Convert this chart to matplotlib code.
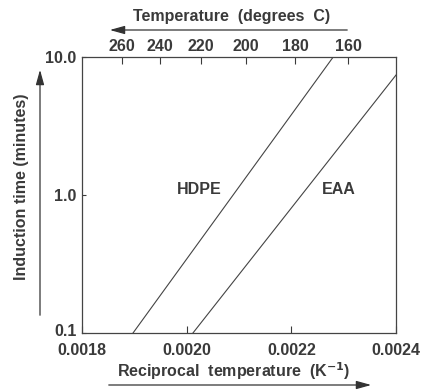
import numpy as np
import matplotlib.pyplot as plt
from matplotlib.transforms import ScaledTranslation

plt.rcParams['font.family'] = ['Liberation Sans', 'DejaVu Sans']

# reciprocal temperature (1/K) vs induction time (min), line end points
hdpe_x = [0.0018975, 0.00228]
hdpe_y = [0.1, 10.0]
eaa_x = [0.002012, 0.0024]
eaa_y = [0.1, 7.4]

bottom_ticks = [0.0018, 0.0020, 0.0022, 0.0024]
bottom_labels = ['0.0018', '0.0020', '0.0022', '0.0024']
top_temps_c = [260, 240, 220, 200, 180, 160]
y_ticks = [0.1, 1.0, 10.0]
y_labels = ['0.1', '1.0', '10.0']

ink = '#3a3a3a'
fs = 11.5

fig = plt.figure(figsize=(4.22, 3.92), dpi=100)
ax = fig.add_axes([82 / 422, 1 - 333 / 392, 314 / 422, 276 / 392])

ax.plot(hdpe_x, hdpe_y, color='#444444', lw=0.8)
ax.plot(eaa_x, eaa_y, color='#444444', lw=0.8)

ax.set_yscale('log')
ax.set_xlim(0.0018, 0.0024)
ax.set_ylim(0.1, 10.0)

ax.set_xticks(bottom_ticks)
ax.set_xticklabels(bottom_labels)
ax.set_yticks(y_ticks)
ax.set_yticklabels(y_labels)
ax.yaxis.set_minor_locator(plt.NullLocator())
ax.tick_params(axis='x', direction='in', length=5, width=0.8, colors=ink, labelsize=fs, pad=7)
ax.tick_params(axis='y', direction='in', length=3, width=0.8, colors=ink, labelsize=fs, pad=4)
for lab in ax.get_xticklabels() + ax.get_yticklabels():
    lab.set_fontweight('bold')
    lab.set_color(ink)
# nudge the bottom y label up a little so it clears 0.0018
low = ax.get_yticklabels()[0]
low.set_transform(low.get_transform() + ScaledTranslation(0, 2 / 72, fig.dpi_scale_trans))
for s in ax.spines.values():
    s.set_color('#444444')
    s.set_linewidth(0.9)

# top axis in degrees C
top = ax.secondary_xaxis('top', functions=(lambda x: x, lambda x: x))
top.set_xticks([1.0 / (t + 273.15) for t in top_temps_c])
top.set_xticklabels([str(t) for t in top_temps_c])
top.tick_params(direction='in', length=5, width=0.8, colors=ink, labelsize=fs, pad=2)
for lab in top.get_xticklabels():
    lab.set_fontweight('bold')
    lab.set_color(ink)
top.spines['top'].set_visible(False)

ax.text(0.0019815, 1.1, 'HDPE', fontsize=fs, fontweight='bold', color=ink, va='center')
ax.text(0.0022586, 1.1, 'EAA', fontsize=fs, fontweight='bold', color=ink, va='center')

# axis titles and arrows in figure pixel coords
def px(x, y):
    return (x / 422, 1 - y / 392)

fig.text(*px(232, 17), 'Temperature  (degrees  C)', ha='center', va='center',
         fontsize=fs, fontweight='bold', color=ink)
fig.text(*px(234, 371), 'Reciprocal  temperature  (K$^{\\mathbf{-1}}$)', ha='center', va='center',
         fontsize=fs, fontweight='bold', color=ink)
fig.text(*px(22, 187), 'Induction time (minutes)', ha='center', va='center', rotation=90,
         fontsize=fs, fontweight='bold', color=ink)

arrow = dict(arrowstyle='-|>,head_length=0.9,head_width=0.25', color='#333333', lw=0.9)
ax.annotate('', xy=px(107, 30), xytext=px(350, 30), xycoords='figure fraction',
            textcoords='figure fraction', arrowprops=arrow, annotation_clip=False)
ax.annotate('', xy=px(374, 385), xytext=px(106, 385), xycoords='figure fraction',
            textcoords='figure fraction', arrowprops=arrow, annotation_clip=False)
ax.annotate('', xy=px(40, 67), xytext=px(40, 318), xycoords='figure fraction',
            textcoords='figure fraction', arrowprops=arrow, annotation_clip=False)

fig.savefig('out.png', dpi=100)
